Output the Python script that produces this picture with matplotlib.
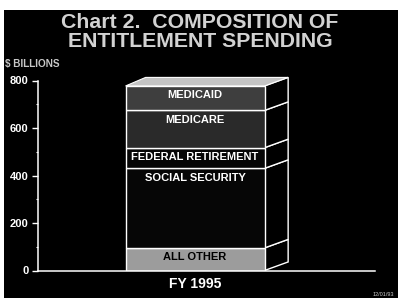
import matplotlib
matplotlib.use("Agg")
import matplotlib.pyplot as plt
from matplotlib.patches import Polygon, Rectangle
import numpy as np

plt.rcParams['font.family'] = ['Liberation Sans', 'DejaVu Sans']

# data ($ billions, FY 1995)
segments = ["ALL OTHER", "SOCIAL SECURITY", "FEDERAL RETIREMENT", "MEDICARE", "MEDICAID"]
values = [95, 335, 87, 157, 103]
seg_colors = ["#9c9c9c", "#060606", "#060606", "#2a2a2a", "#3e3e3e"]
label_colors = ["black", "white", "white", "white", "white"]
category = "FY 1995"
yticks = [0, 200, 400, 600, 800]

fig = plt.figure(figsize=(4.0, 3.06), dpi=100, facecolor="white")
# black slide background with thin white margin
fig.patches.append(Rectangle((4 / 400, 8 / 306), 394 / 400, 288 / 306,
                             transform=fig.transFigure, facecolor="black",
                             edgecolor="none", zorder=-5))

ax = fig.add_axes([38 / 400, 35.5 / 306, 337 / 400, 190 / 306])
ax.set_facecolor("none")
ax.set_zorder(2)

x = 0.0
width = 1.0
dx, dy = 0.17, 36  # depth of the 3-D box in data units
bottoms = np.concatenate([[0], np.cumsum(values)[:-1]])
tops = bottoms + np.array(values)

for i, (b, v) in enumerate(zip(bottoms, values)):
    ax.bar([x], [v], bottom=b, width=width, color=seg_colors[i],
           edgecolor="white", linewidth=1.0, zorder=2)
    x1 = x + width / 2
    side = Polygon([(x1, b), (x1 + dx, b + dy), (x1 + dx, b + v + dy), (x1, b + v)],
                   closed=True, facecolor="black", edgecolor="white",
                   linewidth=1.0, clip_on=False, zorder=1)
    ax.add_patch(side)
    ax.annotate(segments[i], (x, b + v), xytext=(0, -3.0), textcoords="offset points",
                ha="center", va="top", color=label_colors[i], fontsize=8,
                fontweight="bold", zorder=3)

total = tops[-1]
x0, x1 = x - width / 2, x + width / 2
top_face = Polygon([(x0, total), (x0 + dx * 0.85, total + dy), (x1 + dx, total + dy), (x1, total)],
                   closed=True, facecolor="#c4c4c4", edgecolor="white",
                   linewidth=0.8, clip_on=False, zorder=1)
ax.add_patch(top_face)

ax.set_xlim(-1.13, 1.295)
ax.set_ylim(0, 800)
ax.set_yticks(yticks)
ax.set_yticks(np.arange(100, 800, 200), minor=True)
ax.set_yticklabels([str(t) for t in yticks], color="white", fontsize=8, fontweight="bold")
ax.tick_params(axis="y", which="major", colors="white", length=4.3, width=1.0, pad=2.5,
               labelcolor="white")
ax.tick_params(axis="y", which="minor", colors="white", length=1.8, width=0.8)
ax.set_xticks([])
for s in ["top", "right"]:
    ax.spines[s].set_visible(False)
for s in ["left", "bottom"]:
    ax.spines[s].set_color("white")
    ax.spines[s].set_linewidth(1.1)

fig.text(0.5, 1 - 23 / 306, "Chart 2.  COMPOSITION OF", ha="center", va="center",
         color="#d2d2d2", fontsize=15.3, fontweight="bold")
fig.text(0.5, 1 - 41.5 / 306, "ENTITLEMENT SPENDING", ha="center", va="center",
         color="#d2d2d2", fontsize=15.3, fontweight="bold")
fig.text(5 / 400, 1 - 64.5 / 306, "$ BILLIONS", ha="left", va="center",
         color="#c8c8c8", fontsize=7.2, fontweight="bold")
fig.text(195 / 400, 1 - 283.5 / 306, category, ha="center", va="center",
         color="white", fontsize=10, fontweight="bold")
fig.text(394 / 400, 1 - 294.5 / 306, "12/01/93", ha="right", va="center",
         color="#cccccc", fontsize=4.0)

fig.savefig("out.png", dpi=100, facecolor="white")
